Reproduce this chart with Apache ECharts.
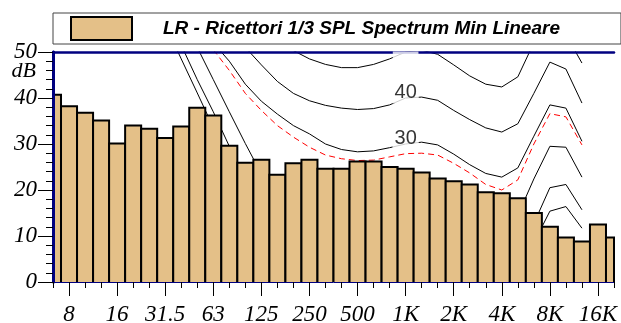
<!DOCTYPE html>
<html>
<head>
<meta charset="utf-8">
<script src="https://cdn.jsdelivr.net/npm/echarts@6/dist/echarts.min.js"></script>
<style>
html,body{margin:0;padding:0;background:#fff;}
#chart{width:621px;height:323px;}
</style>
</head>
<body>
<div id="chart"></div>
<script>
// 1/3 octave bands (index 0 = 6.3 Hz)
const bands = ['6.3','8','10','12.5','16','20','25','31.5','40','50','63','80','100','125','160','200','250','315','400','500','630','800','1K','1.25K','1.6K','2K','2.5K','3.15K','4K','5K','6.3K','8K','10K','12.5K','16K','20K'];
// SPL spectrum (dB)
const splValues = [40.7,38.2,36.8,35.1,30.1,34.0,33.3,31.3,33.8,37.9,36.2,29.6,25.9,26.6,23.3,25.8,26.6,24.6,24.6,26.2,26.2,25.0,24.6,23.8,22.5,21.9,21.2,19.5,19.3,18.2,15.0,12.0,9.7,8.8,12.5,9.7];
// octave tick labels and their band positions
const tickLabels = ['8','16','31.5','63','125','250','500','1K','2K','4K','8K','16K'];
const tickBands = [1,4,7,10,13,16,19,22,25,28,31,34];
// contour curves (dB per band)
const curve50 = [null,null,null,null,null,null,null,null,null,null,null,null,null,56.5,53,50.3,48.5,47.3,46.6,46.6,47.3,48.5,50,50.4,49.5,47.2,44.8,43.0,42.4,44.6,52,55.5,53.8,47.6,null,null];
const curve40 = [null,null,null,null,null,null,null,null,null,null,null,null,51,47.2,43.6,41.0,39.4,38.4,37.8,37.5,37.7,38.5,40,40.2,39.5,37.3,35.3,33.5,32.6,34.4,41,47.8,46.3,38.9,null,null];
const curve30 = [null,null,null,null,null,null,null,null,null,null,52,48,43,39.3,36.5,34,32.2,30,28.8,28.3,28.5,29.2,30,30.4,29.8,27.8,25.5,23.6,22.8,24.8,31.7,38.5,37.8,30.6,null,null];
const curveRed = [null,null,null,null,null,null,null,null,null,null,50.5,46,41,37.3,34,31.5,29.3,27.6,26.8,26.4,26.5,27.2,27.9,28.0,27.6,25.8,23.7,21.2,20.0,22.2,30,36.6,35.9,29.8,null,null];
const curve20 = [null,null,null,null,null,null,null,null,null,51,44,37,30.1,23.5,20.5,19,18.2,17.6,17.2,17.0,17.2,18,20,20.3,19.7,17.8,15.6,13.8,13,14.5,22.4,29.5,29.3,22.8,null,null];
const curve10 = [null,null,null,null,null,null,null,null,51.5,44,37,29.5,22.5,18,15,13,12,11,10.5,10.2,10.3,10.8,11.5,11.8,11,9,7,5.5,5,7.5,12.7,20.5,21.2,15.7,null,null];
const curveMin = [null,null,null,null,null,null,null,56,48.5,41.1,33.6,26,20,15.5,12,9.5,8,7,6,5.5,5.5,6,6.5,6.5,5.5,3.5,2,1,0.5,3,8.5,15.4,16.4,11.7,null,null];
const labelBand = 22;
const labelLevels = [40, 30];
const hiddenLabelLevel = 50;

const seriesName = 'LR - Ricettori 1/3 SPL Spectrum Min Lineare';
const navy = '#000080';
const serif = 'Liberation Serif';
const sans = 'Liberation Sans';
const barFill = '#E4C088';

function curveSeries(arr, color, type) {
  return {
    type: 'line', data: arr.map((v, i) => [i, v]), symbol: 'none', silent: true,
    clip: true, connectNulls: false, z: 1,
    lineStyle: { color: color, width: 1, type: type || 'solid' },
    xAxisIndex: 0, yAxisIndex: 0
  };
}

const chart = echarts.init(document.getElementById('chart'), null, { renderer: 'canvas' });
const allBandIdx = bands.map((b, i) => i);

chart.setOption({
  animation: false,
  backgroundColor: '#fff',
  legend: {
    data: [seriesName], left: 53, top: 13,
    padding: [3, 61, 3, 17],
    itemWidth: 61, itemHeight: 23,
    borderColor: '#444', borderWidth: 1,
    icon: 'rect',
    itemStyle: { color: barFill, borderColor: '#000', borderWidth: 2 },
    textStyle: { fontFamily: sans, fontWeight: 'bold', fontStyle: 'italic', fontSize: 19, color: '#000', padding: [0, 0, 0, 26] }
  },
  graphic: [{
    type: 'text', right: 585, top: 60,
    style: { text: 'dB', fontFamily: serif, fontStyle: 'italic', fontSize: 22, fill: '#000' }
  }],
  grid: { left: 53, right: 7, top: 52, bottom: 41, containLabel: false, outerBoundsMode: 'none' },
  xAxis: [
    { type: 'value', min: 0, max: 35, position: 'bottom', z: 10,
      axisLine: { show: true, lineStyle: { color: navy, width: 1 } },
      axisTick: { show: true, customValues: allBandIdx, length: 6, lineStyle: { color: '#000', width: 1 } },
      axisLabel: { show: false }, splitLine: { show: false } },
    { type: 'value', min: 0, max: 35, position: 'bottom', z: 10,
      axisLine: { show: false },
      axisTick: { show: true, customValues: tickBands, length: 14, lineStyle: { color: '#000', width: 1 } },
      axisLabel: { show: true, customValues: tickBands, margin: 21,
        formatter: v => tickLabels[tickBands.indexOf(Math.round(v))] || '',
        fontFamily: serif, fontStyle: 'italic', fontSize: 23, color: '#000' },
      splitLine: { show: false } },
    { type: 'value', min: 0, max: 35, position: 'top', z: 10,
      axisLine: { show: true, lineStyle: { color: navy, width: 2.5 } },
      axisTick: { show: false }, axisLabel: { show: false }, splitLine: { show: false } }
  ],
  yAxis: [
    { type: 'value', min: 0, max: 50, interval: 10, position: 'left', z: 10,
      axisLine: { show: true, lineStyle: { color: navy, width: 2.5 } },
      axisTick: { show: true, length: 15, lineStyle: { color: '#000', width: 1 } },
      minorTick: { show: true, splitNumber: 5, length: 7, lineStyle: { color: '#000', width: 1 } },
      axisLabel: { margin: 16, fontFamily: serif, fontStyle: 'italic', fontSize: 23, color: '#000' },
      splitLine: { show: false }, minorSplitLine: { show: false } },
    { type: 'value', min: 0, max: 50, position: 'right', z: 10,
      axisLine: { show: true, lineStyle: { color: navy, width: 3 } },
      axisTick: { show: false }, axisLabel: { show: false }, splitLine: { show: false } }
  ],
  series: [
    curveSeries(curveMin, '#000'),
    curveSeries(curve10, '#000'),
    curveSeries(curve20, '#000'),
    curveSeries(curveRed, '#ff0000', [6, 4]),
    curveSeries(curve30, '#000'),
    curveSeries(curve40, '#000'),
    curveSeries(curve50, '#000'),
    {
      type: 'custom', name: seriesName, xAxisIndex: 0, yAxisIndex: 0, z: 5, silent: true,
      data: splValues.map((v, i) => [i, v]),
      itemStyle: { color: barFill, borderColor: '#000', borderWidth: 2 },
      renderItem: function (params, api) {
        const i = api.value(0), v = api.value(1);
        const p0 = api.coord([i - 0.5, v]);
        const p1 = api.coord([i + 0.5, 0]);
        const cs = params.coordSys;
        const r = echarts.graphic.clipRectByRect(
          { x: p0[0], y: p0[1], width: p1[0] - p0[0], height: p1[1] - p0[1] },
          { x: cs.x, y: cs.y, width: cs.width, height: cs.height });
        if (!r) return null;
        return {
          type: 'group', children: [
            { type: 'rect', shape: r, style: { fill: barFill, stroke: null } },
            { type: 'polyline', shape: { points: [[r.x, r.y + r.height], [r.x, r.y], [r.x + r.width, r.y], [r.x + r.width, r.y + r.height]] },
              style: { stroke: '#000', lineWidth: 2, fill: null } }
          ]
        };
      }
    },
    {
      type: 'scatter', xAxisIndex: 0, yAxisIndex: 0, z: 6, silent: true, clip: false,
      data: labelLevels.map(l => [labelBand, l]),
      symbol: 'rect', symbolSize: 1, itemStyle: { color: 'rgba(0,0,0,0)' },
      label: { show: true, position: 'inside', offset: [0, -6], formatter: p => String(p.value[1]),
        fontFamily: sans, fontSize: 20, color: '#000', backgroundColor: '#fff', padding: [1, 2, 2, 2] }
    },
    {
      type: 'scatter', xAxisIndex: 0, yAxisIndex: 0, z: 11, silent: true, clip: false,
      data: [[labelBand, hiddenLabelLevel]],
      symbol: 'rect', symbolSize: 1, itemStyle: { color: 'rgba(0,0,0,0)' },
      label: { show: true, position: 'inside', offset: [0, 3], formatter: ' ',
        fontSize: 6, lineHeight: 7, color: '#fff', backgroundColor: '#fff', padding: [0, 12] }
    }
  ]
});
</script>
</body>
</html>
